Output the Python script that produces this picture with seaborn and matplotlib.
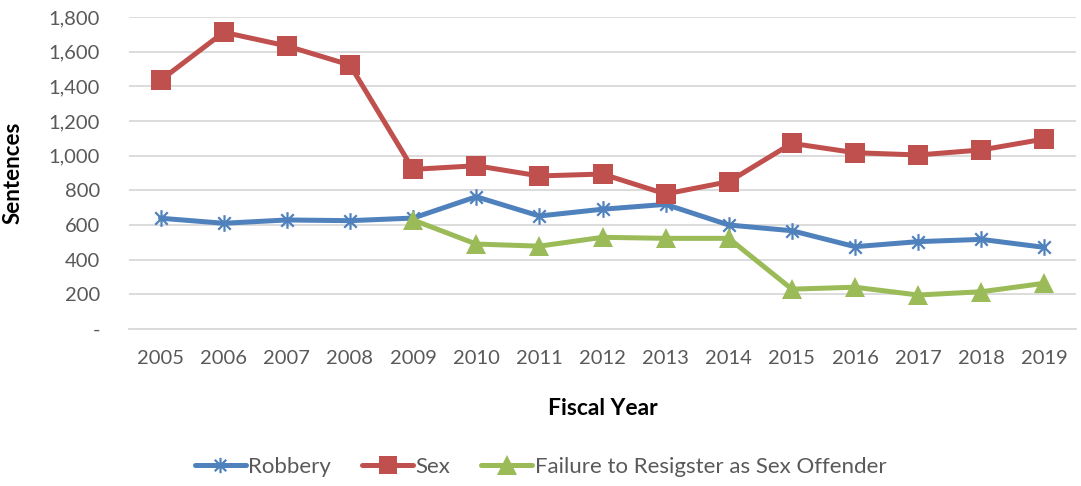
import pandas as pd
import seaborn as sns
import matplotlib.pyplot as plt
from matplotlib.path import Path
from matplotlib.ticker import FuncFormatter

# ==============================================================================
# DADOS
# ==============================================================================

years = list(range(2005, 2020))

robbery = [639, 610, 629, 625, 640, 763, 652, 691, 719, 600, 567, 475, 504, 517, 471]
sex = [1435, 1712, 1633, 1523, 921, 942, 883, 894, 779, 850, 1071, 1017, 1004, 1033, 1096]

failure_years = list(range(2009, 2020))
failure = [629, 490, 478, 529, 523, 523, 230, 241, 196, 215, 264]

series_names = ["Robbery", "Sex", "Failure to Resigster as Sex Offender"]
colors = ["#4F81BD", "#C0504D", "#9BBB59"]

# ==============================================================================
# PLOT
# ==============================================================================

sns.set_theme(style="white")
plt.rcParams["font.family"] = ["Lato", "DejaVu Sans"]

rows = []
for y, v in zip(years, robbery):
    rows.append({"Year": y, "Sentences": v, "Series": series_names[0]})
for y, v in zip(years, sex):
    rows.append({"Year": y, "Sentences": v, "Series": series_names[1]})
for y, v in zip(failure_years, failure):
    rows.append({"Year": y, "Sentences": v, "Series": series_names[2]})
df = pd.DataFrame(rows)

# marcador "estrela" do Excel: vertical + X
star = Path(
    [(0, -1), (0, 1), (-0.75, -0.75), (0.75, 0.75), (-0.75, 0.75), (0.75, -0.75)],
    [Path.MOVETO, Path.LINETO, Path.MOVETO, Path.LINETO, Path.MOVETO, Path.LINETO],
)

fig = plt.figure(figsize=(10.81, 4.86), dpi=100)
ax = fig.add_axes([129 / 1081, 1 - 329 / 486, 947 / 1081, 312 / 486])

sns.lineplot(
    data=df, x="Year", y="Sentences", hue="Series", style="Series",
    hue_order=series_names, style_order=series_names,
    palette=colors, markers={series_names[0]: star, series_names[1]: "s", series_names[2]: "^"},
    dashes=False, linewidth=3.6, markersize=13, ax=ax, legend=False,
)

# ajustes finos dos marcadores
for line, name in zip(ax.get_lines(), series_names):
    c = colors[series_names.index(name)]
    line.set_markerfacecolor(c)
    line.set_markeredgecolor(c)
    if name == "Robbery":
        line.set_markersize(12)
        line.set_markeredgewidth(1.6)
    elif name == "Failure to Resigster as Sex Offender":
        line.set_markersize(15)
        line.set_markeredgewidth(0)
    else:
        line.set_markeredgewidth(0)
        line.set_markersize(14)

ax.set_xlim(2004.5, 2019.5)
ax.set_ylim(0, 1800)
ax.set_xticks(years)
ax.set_yticks(range(0, 1801, 200))
ax.yaxis.set_major_formatter(FuncFormatter(lambda v, p: "-" if v == 0 else f"{int(v):,}"))
ax.grid(axis="y", color="#D9D9D9", linewidth=1.3)
ax.set_axisbelow(True)
for s in ["top", "right", "left"]:
    ax.spines[s].set_visible(False)
ax.spines["bottom"].set_color("#D9D9D9")
ax.spines["bottom"].set_linewidth(1.3)

ax.tick_params(axis="both", length=0, labelsize=14.5, labelcolor="#595959")
ax.tick_params(axis="y", pad=21)
ax.tick_params(axis="x", pad=15)

ax.set_xlabel("Fiscal Year", fontsize=16.5, fontweight="bold", color="black")
ax.set_ylabel("Sentences", fontsize=16, fontweight="bold", color="black")
ax.xaxis.set_label_coords(0.5, (329 - 398) / 312)
ax.yaxis.set_label_coords((24 - 129) / 947, 0.5)

handles = [
    plt.Line2D([], [], color=colors[0], lw=3.6, marker=star, markersize=11, markeredgewidth=1.6),
    plt.Line2D([], [], color=colors[1], lw=3.6, marker="s", markersize=13, markeredgewidth=0),
    plt.Line2D([], [], color=colors[2], lw=3.6, marker="^", markersize=14, markeredgewidth=0),
]
fig.legend(
    handles, series_names, loc="center", bbox_to_anchor=(0.5, 1 - 467 / 486),
    ncol=3, frameon=False, fontsize=16, handlelength=2.3, handletextpad=0.1,
    columnspacing=1.4, labelcolor="#595959",
)

fig.savefig("out.png", dpi=100)
